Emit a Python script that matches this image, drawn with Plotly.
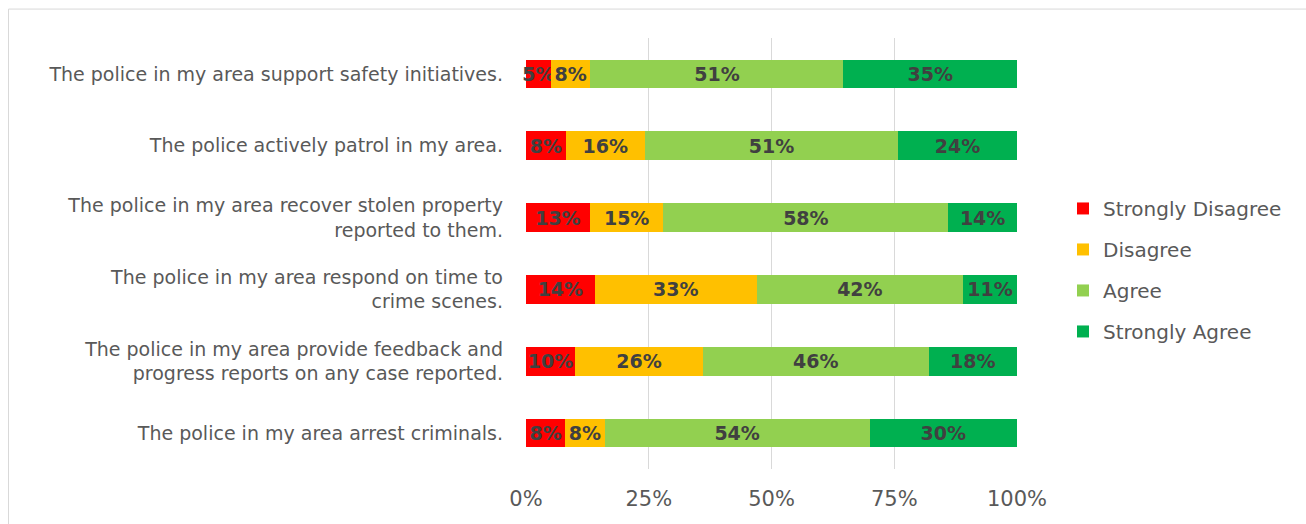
import plotly.graph_objects as go

statements = [
    "The police in my area support safety initiatives.",
    "The police actively patrol in my area.",
    "The police in my area recover stolen property<br>reported to them.",
    "The police in my area respond on time to<br>crime scenes.",
    "The police in my area provide feedback and<br>progress reports on any case reported.",
    "The police in my area arrest criminals.",
]

strongly_disagree = [5, 8, 13, 14, 10, 8]
disagree = [8, 16, 15, 33, 26, 8]
agree = [51, 51, 58, 42, 46, 54]
strongly_agree = [35, 24, 14, 11, 18, 30]

series = [
    ("Strongly Disagree", strongly_disagree, "#FF0000"),
    ("Disagree", disagree, "#FFC000"),
    ("Agree", agree, "#92D050"),
    ("Strongly Agree", strongly_agree, "#00B050"),
]

tick_vals = [0, 25, 50, 75, 100]
tick_text = ["0%", "25%", "50%", "75%", "100%"]

FONT = "Century Gothic, DejaVu Sans, sans-serif"

fig = go.Figure()
for name, vals, color in series:
    fig.add_trace(go.Bar(
        name=name,
        y=statements,
        x=vals,
        orientation="h",
        marker=dict(color=color, line=dict(width=0)),
        text=[f"{v}%" for v in vals],
        textposition="inside",
        insidetextanchor="middle",
        textangle=0,
        textfont=dict(family=FONT, size=19, color="#404040", weight="bold"),
        legendgroup=name,
        cliponaxis=False,
    ))

W, H = 1306, 524
L, R, T, B = 526, 1017, 37.5, 469.5
pw, ph = R - L, B - T

fig.update_layout(
    width=W, height=H,
    barmode="stack",
    barnorm="percent",
    bargap=0.6,
    paper_bgcolor="white",
    plot_bgcolor="white",
    margin=dict(l=L, r=W - R, t=T, b=H - B, pad=0),
    font=dict(family=FONT, color="#595959", size=19),
    uniformtext=dict(mode="show", minsize=19),
    showlegend=True,
    legend=dict(
        x=(1063 - L) / pw, xanchor="left",
        y=(B - 270) / ph, yanchor="middle",
        font=dict(family=FONT, size=20, color="#595959"),
        tracegroupgap=12,
        itemwidth=30,
        bgcolor="rgba(0,0,0,0)",
    ),
    xaxis=dict(
        range=[0, 100],
        tickvals=tick_vals,
        ticktext=tick_text,
        showgrid=True,
        gridcolor="#D9D9D9",
        gridwidth=1,
        zeroline=False,
        showline=False,
        tickfont=dict(family=FONT, size=21, color="#595959"),
        ticks="",
        ticklabelstandoff=15,
    ),
    yaxis=dict(
        autorange="reversed",
        showgrid=False,
        zeroline=False,
        showline=False,
        ticks="",
        tickfont=dict(family=FONT, size=19, color="#595959"),
        ticklabelstandoff=22,
    ),
    shapes=[
        dict(type="rect", xref="paper", yref="paper",
             x0=(8.5 - L) / pw, x1=(W + 5 - L) / pw,
             y0=(B - (H + 5)) / ph, y1=(B - 8.5) / ph,
             line=dict(color="#D9D9D9", width=1), fillcolor="rgba(0,0,0,0)",
             layer="below"),
    ],
)

fig.write_html("out.html")
